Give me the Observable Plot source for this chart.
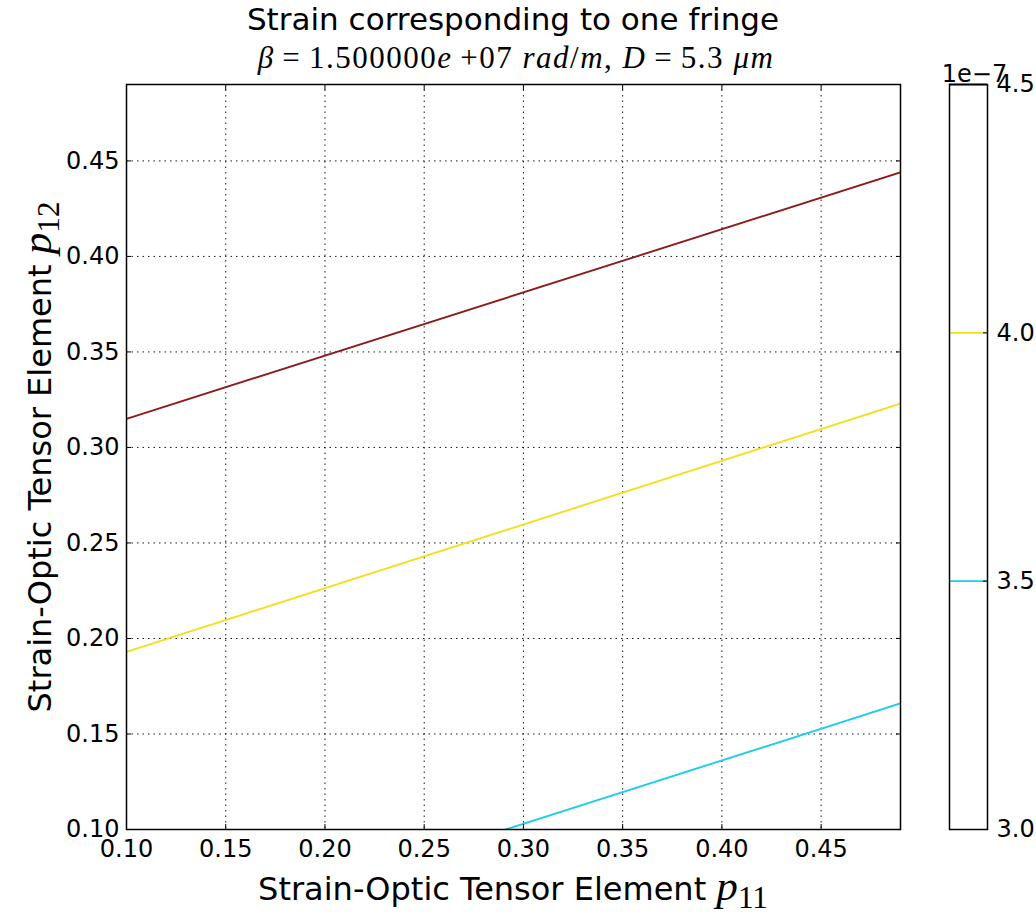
<!DOCTYPE html>
<html>
<head>
<meta charset="utf-8">
<script src="https://cdn.jsdelivr.net/npm/d3@7"></script>
<script src="https://cdn.jsdelivr.net/npm/@observablehq/plot@0.6"></script>
<style>
  html, body { margin: 0; padding: 0; background: #fff; }
  #wrap { position: relative; width: 1036px; height: 917px; overflow: hidden; font-family: "DejaVu Sans", sans-serif; }
  #wrap svg { position: absolute; top: 0; }
  .txt { position: absolute; white-space: nowrap; color: #000; line-height: 1; }
  .math { font-family: "Liberation Serif", serif; }
  .math i { font-style: italic; }
</style>
</head>
<body>
<div id="wrap"></div>
<script>
// ---- data ----
const levels = [4.5e-7, 4.0e-7, 3.5e-7];          // contour levels
const p11Start = [0.10, 0.10, 0.291];
const p12Start = [0.315, 0.193, 0.10];
const p11End = [0.49, 0.49, 0.49];
const p12End = [0.444, 0.323, 0.166];
const lineColors = ["#8c1c1c", "#f2df20", "#1ccde8"];
const xTicks = [0.10, 0.15, 0.20, 0.25, 0.30, 0.35, 0.40, 0.45];
const yTicks = [0.10, 0.15, 0.20, 0.25, 0.30, 0.35, 0.40, 0.45];
const cbTicks = [3.0, 3.5, 4.0, 4.5];
const cbScaleLabel = "1e\u22127";

const rows = [];
levels.forEach((lv, i) => {
  rows.push({level: lv, p11: p11Start[i], p12: p12Start[i]});
  rows.push({level: lv, p11: p11End[i], p12: p12End[i]});
});

const W = 1036, H = 917;
const mL = 126, mR = 136, mT = 84, mB = 88;
const tickFont = 24;

const main = Plot.plot({
  width: W, height: H,
  marginLeft: mL, marginRight: mR, marginTop: mT, marginBottom: mB,
  style: {fontFamily: "DejaVu Sans", fontSize: tickFont + "px", color: "#000", background: "transparent"},
  x: {domain: [0.10, 0.49], label: null},
  y: {domain: [0.10, 0.49], label: null},
  color: {domain: levels, range: lineColors},
  marks: [
    Plot.gridX(xTicks, {stroke: "#000", strokeOpacity: 0.9, strokeWidth: 1, strokeDasharray: "1.5,4"}),
    Plot.gridY(yTicks, {stroke: "#000", strokeOpacity: 0.9, strokeWidth: 1, strokeDasharray: "1.5,4"}),
    Plot.line(rows, {x: "p11", y: "p12", z: "level", stroke: "level", strokeWidth: 1.9, clip: true}),
    Plot.axisX(xTicks, {anchor: "bottom", tickSize: -5, tickPadding: 15, tickFormat: ".2f", fontSize: tickFont, label: null}),
    Plot.axisX(xTicks, {anchor: "top", tickSize: -5, tickFormat: () => "", label: null}),
    Plot.axisY(yTicks, {anchor: "left", tickSize: -5, tickPadding: 12, tickFormat: ".2f", fontSize: tickFont, label: null}),
    Plot.axisY(yTicks, {anchor: "right", tickSize: -5, tickFormat: () => "", label: null}),
    Plot.frame({stroke: "#000", strokeWidth: 1.5})
  ]
});
main.style.left = "0px";

const cbLeft = 900, cbW = 136;
const cb = Plot.plot({
  width: cbW, height: H,
  marginLeft: 49, marginRight: 49, marginTop: mT, marginBottom: mB,
  style: {fontFamily: "DejaVu Sans", fontSize: tickFont + "px", color: "#000", background: "transparent", overflow: "visible"},
  x: {domain: [0, 1], axis: null},
  y: {domain: [3.0, 4.5], label: null, axis: null},
  color: {domain: levels.map(v => v * 1e7), range: lineColors},
  marks: [
    Plot.ruleY(levels.map(v => v * 1e7), {y: d => d, stroke: d => d, strokeWidth: 1.9}),
    Plot.axisY(cbTicks, {anchor: "right", tickSize: -5, tickPadding: 14, tickFormat: ".1f", fontSize: tickFont, label: null, textAnchor: "start"}),
    Plot.frame({stroke: "#000", strokeWidth: 1.5}),
    Plot.text([cbScaleLabel], {text: d => d, frameAnchor: "top", dy: -20, dx: 6, fontSize: tickFont})
  ]
});
cb.style.left = cbLeft + "px";

const wrap = document.getElementById("wrap");
wrap.appendChild(main);
wrap.appendChild(cb);

function addText(html, cls, css) {
  const d = document.createElement("div");
  d.className = "txt " + cls;
  d.innerHTML = html;
  Object.assign(d.style, css);
  wrap.appendChild(d);
  return d;
}
// title
addText("Strain corresponding to one fringe", "", {left: "513px", top: "4px", transform: "translateX(-50%)", fontSize: "31px"});
// subtitle (math)
addText("<i>\u03b2</i>\u2009=\u20091.500000<i>e</i>\u2009+07 <i>rad</i>/<i>m</i>, <i>D</i>\u2009=\u20095.3 <i>\u03bcm</i>", "math",
  {left: "516px", top: "42px", transform: "translateX(-50%)", fontSize: "31px", letterSpacing: "1.5px"});
// axis labels
const sub = (n) => "<span class='math' style='font-size:1.35em'><i>p</i><span style='font-size:0.72em;position:relative;top:0.25em'>" + n + "</span></span>";
addText("Strain-Optic Tensor Element " + sub("11"), "",
  {left: "513px", top: "864px", transform: "translateX(-50%)", fontSize: "32px"});
addText("Strain-Optic Tensor Element " + sub("12"), "",
  {left: "37px", top: "457px", transform: "translate(-50%,-50%) rotate(-90deg)", fontSize: "32px"});
</script>
</body>
</html>
